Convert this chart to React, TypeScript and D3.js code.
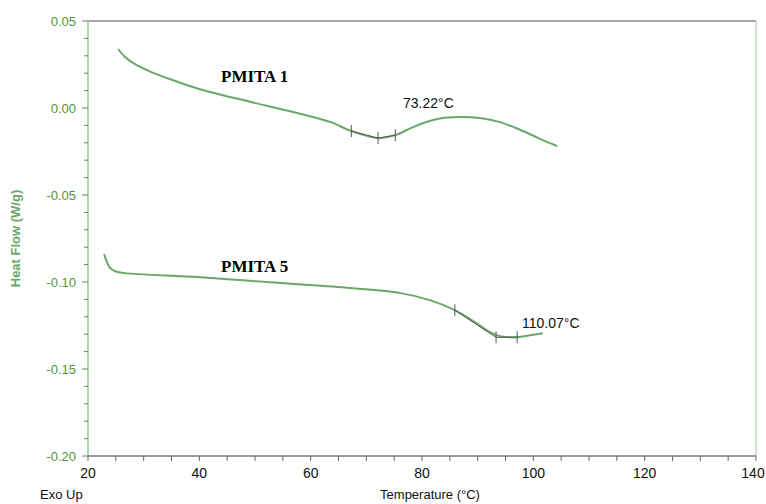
import React from "react";
import * as d3 from "d3";

// PMITA 1 trace (temperature °C, heat flow W/g)
const pmita1Temp = [25.4, 26.5, 28.1, 31.1, 34.2, 40.1, 49.1, 58.1, 63.5, 67.3, 72.1, 75.2, 77.9, 80.5, 83.2, 86.8, 90.4, 94.0, 97.6, 101.2, 104.3];
const pmita1Flow = [0.0339, 0.0298, 0.0259, 0.0210, 0.0172, 0.0108, 0.0036, -0.0033, -0.0080, -0.0132, -0.0173, -0.0156, -0.0117, -0.0083, -0.0060, -0.0052, -0.0058, -0.0081, -0.0125, -0.0177, -0.0219];

// PMITA 5 trace
const pmita5Temp = [22.9, 23.4, 24.0, 24.9, 26.6, 40.1, 54.5, 67.1, 76.1, 81.4, 85.9, 89.5, 92.2, 94.0, 97.1, 99.4, 101.7];
const pmita5Flow = [-0.084, -0.0886, -0.092, -0.0938, -0.0949, -0.0972, -0.1006, -0.1035, -0.1064, -0.1104, -0.1162, -0.1231, -0.1288, -0.1311, -0.1317, -0.1306, -0.1294];

// glass transition analysis marks
const tg1Temp = [67.3, 72.1, 75.2];
const tg1Flow = [-0.0132, -0.0173, -0.0156];
const tg5Temp = [85.9, 93.3, 97.1];
const tg5Flow = [-0.1162, -0.1318, -0.1317];

const xTicks = [20, 40, 60, 80, 100, 120, 140];
const yTicks = [0.05, 0.0, -0.05, -0.1, -0.15, -0.2];

const W = 766;
const H = 504;
const m = { left: 88, right: 10, top: 21, bottom: 48 };

export default function App() {
  const x = d3.scaleLinear().domain([20, 140]).range([m.left, W - m.right]);
  const y = d3.scaleLinear().domain([-0.2, 0.05]).range([H - m.bottom, m.top]);

  const line = d3
    .line<[number, number]>()
    .curve(d3.curveCatmullRom.alpha(0.5))
    .x((d) => x(d[0]))
    .y((d) => y(d[1]));
  const straight = d3
    .line<[number, number]>()
    .x((d) => x(d[0]))
    .y((d) => y(d[1]));

  const s1 = pmita1Temp.map((t, i) => [t, pmita1Flow[i]] as [number, number]);
  const s5 = pmita5Temp.map((t, i) => [t, pmita5Flow[i]] as [number, number]);
  const a1 = tg1Temp.map((t, i) => [t, tg1Flow[i]] as [number, number]);
  const a5 = tg5Temp.map((t, i) => [t, tg5Flow[i]] as [number, number]);

  const green = "#6aa86a";
  const axisGreen = "#4f9440";
  const x0 = x(20), x1 = x(140), yb = y(-0.2), yt = y(0.05);

  const xMinor = d3.range(20, 141, 5);
  const yMinor = d3.range(-20, 6, 1).map((v) => v / 100);

  const marks = (pts: [number, number][]) =>
    pts.map((p, i) => (
      <line key={i} x1={x(p[0])} x2={x(p[0])} y1={y(p[1]) - 6} y2={y(p[1]) + 6} stroke="#555" strokeWidth={1} />
    ));

  return (
    <svg width={W} height={H} style={{ position: "absolute", left: 0, top: 0, background: "#fff" }} fontFamily="Arial, 'Liberation Sans', sans-serif">
      {/* frame */}
      <line x1={x0} x2={x1} y1={yt} y2={yt} stroke="#888" strokeWidth={1.5} />
      <line x1={x1} x2={x1} y1={yt} y2={yb} stroke="#9cc89c" strokeWidth={1} />
      <line x1={x0} x2={x0} y1={yt} y2={yb} stroke="#9cc89c" strokeWidth={1.5} />
      <line x1={x0} x2={x1} y1={yb} y2={yb} stroke="#777" strokeWidth={1.5} />

      {/* y ticks */}
      {yMinor.map((v, i) => {
        const major = yTicks.some((t) => Math.abs(t - v) < 1e-9);
        return <line key={i} x1={x0} x2={x0 - (major ? 6 : 4)} y1={y(v)} y2={y(v)} stroke={axisGreen} strokeWidth={1} />;
      })}
      {yTicks.map((v) => (
        <text key={v} x={x0 - 12} y={y(v)} dy="0.35em" textAnchor="end" fontSize={13} fill={axisGreen}>
          {v.toFixed(2)}
        </text>
      ))}
      <text transform={`translate(20,${(yt + yb) / 2}) rotate(-90)`} textAnchor="middle" fontSize={13} fontWeight="bold" fill={green}>
        Heat Flow (W/g)
      </text>

      {/* x ticks */}
      {xMinor.map((v) => (
        <line key={v} x1={x(v)} x2={x(v)} y1={yb} y2={yb + 5} stroke="#666" strokeWidth={1} />
      ))}
      {xTicks.map((v) => (
        <text key={v} x={Math.min(x(v), W - 13)} y={yb + 22} textAnchor="middle" fontSize={14} fill="#111">
          {v}
        </text>
      ))}
      <text x={40} y={499} fontSize={13} fill="#111">Exo Up</text>
      <text x={(x0 + x1) / 2 + 8} y={499} textAnchor="middle" fontSize={13} fill="#111">
        Temperature (°C)
      </text>

      {/* traces */}
      <path d={line(s1) || ""} fill="none" stroke={green} strokeWidth={2} />
      <path d={line(s5) || ""} fill="none" stroke={green} strokeWidth={2} />

      {/* analysis */}
      <path d={straight(a1) || ""} fill="none" stroke="#555" strokeWidth={1} />
      <path d={straight(a5) || ""} fill="none" stroke="#555" strokeWidth={1} />
      {marks(a1)}
      {marks(a5)}

      {/* labels */}
      <text x={221} y={82} fontFamily="'Liberation Serif', 'Times New Roman', serif" fontWeight="bold" fontSize={17} fill="#000">PMITA 1</text>
      <text x={221} y={272} fontFamily="'Liberation Serif', 'Times New Roman', serif" fontWeight="bold" fontSize={17} fill="#000">PMITA 5</text>
      <text x={403} y={108} fontSize={14} fill="#111">73.22°C</text>
      <text x={522} y={328} fontSize={14} fill="#111">110.07°C</text>
    </svg>
  );
}
